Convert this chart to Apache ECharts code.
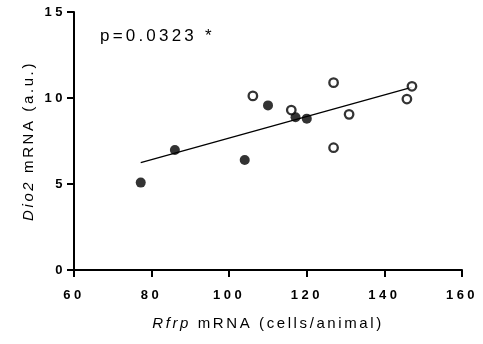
<!DOCTYPE html>
<html><head><meta charset="utf-8">
<script src="https://cdn.jsdelivr.net/npm/echarts@6/dist/echarts.min.js"></script>
<style>html,body{margin:0;padding:0;background:#fff}#c{width:483px;height:344px}</style>
</head><body><div id="c"></div>
<script>
const filledPoints = [[77.2,5.08],[86.0,6.98],[104.0,6.4],[110.0,9.57],[117.1,8.88],[120.0,8.8]];
const openPoints = [[106.1,10.12],[116.0,9.3],[126.9,10.89],[126.9,7.11],[130.9,9.05],[145.8,9.94],[147.1,10.68]];
const fitLine = [[77.2,6.24],[147.0,10.62]];
const xTicks = [60,80,100,120,140,160];
const yTicks = [0,5,10,15];
const pText = 'p=0.0323 *';

// emulate the wide letter spacing of the original figure
(function(){
  const P = CanvasRenderingContext2D.prototype;
  if (!('letterSpacing' in P)) return;
  const d = Object.getOwnPropertyDescriptor(P,'font');
  Object.defineProperty(P,'font',{configurable:true,
    get(){return d.get.call(this);},
    set(v){
      d.set.call(this,v);
      const m=/(\d+(?:\.\d+)?)px/.exec(v); const sz=m?parseFloat(m[1]):12;
      const bold=/bold|[6-9]00/.test(v);
      let s='0px';
      if (bold && sz<14) s='3.5px';
      else if (sz>=16.5) s='3.2px';
      else if (sz>=14) s='2.6px';
      this.letterSpacing=s;
    }});
})();

const font = '"Liberation Sans", Arial, sans-serif';
const chart = echarts.init(document.getElementById('c'), null, {renderer:'canvas'});
chart.setOption({
  animation:false,
  grid:{left:74,right:21,top:12,bottom:74},
  xAxis:{type:'value',min:xTicks[0],max:xTicks[xTicks.length-1],interval:20,
    axisLine:{lineStyle:{color:'#000',width:2}},
    axisTick:{show:true,length:7,lineStyle:{color:'#000',width:2}},
    splitLine:{show:false},
    axisLabel:{color:'#000',fontWeight:'bold',fontSize:13,fontFamily:font,margin:17},
    name:'{i|Rfrp} mRNA (cells/animal)',nameLocation:'middle',nameGap:45,nameMoveOverlap:false,
    nameTextStyle:{color:'#000',fontSize:15,fontFamily:font,rich:{i:{fontStyle:'italic',fontSize:15,fontFamily:font,color:'#000'}}}
  },
  yAxis:{type:'value',min:yTicks[0],max:yTicks[yTicks.length-1],interval:5,
    axisLine:{show:true,lineStyle:{color:'#000',width:2}},
    axisTick:{show:true,length:7,lineStyle:{color:'#000',width:2}},
    splitLine:{show:false},
    axisLabel:{color:'#000',fontWeight:'bold',fontSize:13,fontFamily:font,margin:8},
    name:'{i|Dio2} mRNA (a.u.)',nameLocation:'middle',nameGap:36,nameMoveOverlap:false,
    nameTextStyle:{color:'#000',fontSize:15,fontFamily:font,rich:{i:{fontStyle:'italic',fontSize:15,fontFamily:font,color:'#000'}}}
  },
  graphic:[{type:'text',left:100,top:26,style:{text:pText,fill:'#000',font:'17px '+font}}],
  series:[
    {type:'line',data:fitLine,symbol:'none',lineStyle:{color:'#000',width:1.3},z:1},
    {type:'scatter',data:filledPoints,symbol:'circle',symbolSize:10,itemStyle:{color:'#000'},z:3},
    {type:'scatter',data:openPoints,symbol:'circle',symbolSize:8.5,itemStyle:{color:'#fff',borderColor:'#000',borderWidth:2.3},z:3}
  ]
});
</script></body></html>
